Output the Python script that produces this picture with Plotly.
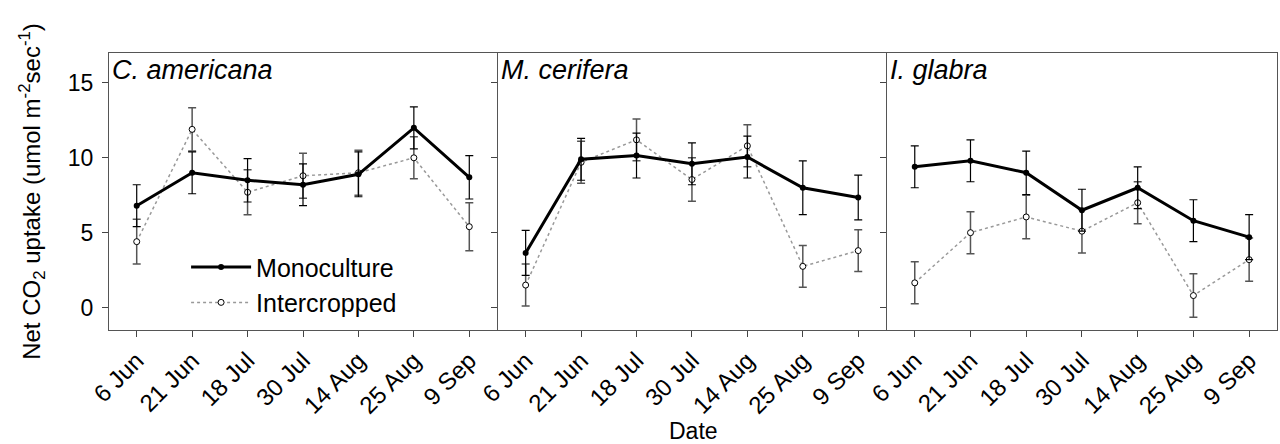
import plotly.graph_objects as go

dates = ["6 Jun", "21 Jun", "18 Jul", "30 Jul", "14 Aug", "25 Aug", "9 Sep"]
species = ["C. americana", "M. cerifera", "I. glabra"]

mono_ca = [6.8, 9.0, 8.5, 8.2, 8.9, 12.0, 8.7]
mono_ca_se = [1.4, 1.4, 1.45, 1.4, 1.5, 1.4, 1.45]
inter_ca = [4.4, 11.9, 7.7, 8.8, 9.0, 10.0, 5.4]
inter_ca_se = [1.5, 1.45, 1.5, 1.5, 1.5, 1.4, 1.6]

mono_mc = [3.65, 9.9, 10.15, 9.6, 10.05, 8.0, 7.35]
mono_mc_se = [1.5, 1.4, 1.5, 1.4, 1.4, 1.8, 1.5]
inter_mc = [1.5, 9.7, 11.2, 8.55, 10.8, 2.75, 3.8]
inter_mc_se = [1.4, 1.4, 1.4, 1.45, 1.4, 1.4, 1.4]

mono_ig = [9.4, 9.8, 9.0, 6.5, 8.0, 5.8, 4.7]
mono_ig_se = [1.4, 1.4, 1.45, 1.4, 1.4, 1.4, 1.5]
inter_ig = [1.65, 5.0, 6.05, 5.1, 7.0, 0.8, 3.2]
inter_ig_se = [1.4, 1.4, 1.45, 1.45, 1.4, 1.45, 1.45]

mono = [mono_ca, mono_mc, mono_ig]
mono_se = [mono_ca_se, mono_mc_se, mono_ig_se]
inter = [inter_ca, inter_mc, inter_ig]
inter_se = [inter_ca_se, inter_mc_se, inter_ig_se]

FONT = "Liberation Sans, Arial, sans-serif"
fig = go.Figure()

xidx = list(range(len(dates)))
for i in range(3):
    ax = "" if i == 0 else str(i + 1)
    fig.add_trace(go.Scatter(
        x=xidx, y=inter[i], xaxis="x" + ax, yaxis="y" + ax,
        mode="lines+markers", name="Intercropped", showlegend=(i == 0),
        line=dict(color="#999999", width=1.5, dash="dot"),
        marker=dict(symbol="circle", size=6, color="white",
                    line=dict(color="black", width=1)),
        error_y=dict(type="data", array=inter_se[i], color="#555555",
                     thickness=1.5, width=4),
    ))
    fig.add_trace(go.Scatter(
        x=xidx, y=mono[i], xaxis="x" + ax, yaxis="y" + ax,
        mode="lines+markers", name="Monoculture", showlegend=(i == 0),
        line=dict(color="black", width=3),
        marker=dict(symbol="circle", size=6, color="black"),
        error_y=dict(type="data", array=mono_se[i], color="black",
                     thickness=1.2, width=4),
    ))

domains = [[0, 0.3322], [0.3330, 0.6652], [0.6660, 1.0]]
layout = dict(
    width=1280, height=444,
    margin=dict(l=109, r=3, t=53, b=114, autoexpand=False),
    plot_bgcolor="white", paper_bgcolor="white",
    font=dict(family=FONT, size=22, color="black"),
    showlegend=True,
    legend=dict(x=0.066, y=0.31, xanchor="left", yanchor="top",
                traceorder="reversed", bgcolor="rgba(0,0,0,0)",
                font=dict(size=25, family=FONT), itemwidth=60,
                tracegroupgap=0),
)
for i in range(3):
    ax = "" if i == 0 else str(i + 1)
    layout["xaxis" + ax] = dict(
        domain=domains[i], range=[-0.5, 6.5], automargin=False,
        tickmode="array", tickvals=xidx, ticktext=dates, tickangle=-45,
        ticks="outside", ticklen=6, tickcolor="#444", showline=True,
        linecolor="#555", linewidth=1, mirror=True, showgrid=False,
        zeroline=False, anchor="y" + ax,
        tickfont=dict(size=24, family=FONT),
    )
    layout["yaxis" + ax] = dict(
        domain=[0, 1], range=[-1.5, 17], tickvals=[0, 5, 10, 15],
        automargin=False, ticklabelstandoff=4,
        ticks="outside", ticklen=6, tickcolor="#444", showline=True,
        linecolor="#555", linewidth=1, mirror=True, showgrid=False,
        zeroline=False, anchor="x" + ax, showticklabels=(i == 0),
        tickfont=dict(size=23, family=FONT),
    )
layout["yaxis"]["title"] = dict(
    text="Net CO<sub>2</sub> uptake (umol m<sup>-2</sup>sec<sup>-1</sup>)",
    font=dict(size=24, family=FONT), standoff=20)
fig.update_layout(**layout)

for i, sp in enumerate(species):
    ax = "x" if i == 0 else "x" + str(i + 1)
    fig.add_annotation(text="<i>" + sp + "</i>", xref=ax + " domain",
                       yref="paper", x=0.003, y=1.0, xanchor="left",
                       yanchor="top", showarrow=False,
                       font=dict(size=27, family=FONT))
fig.add_annotation(text="Date", xref="paper", yref="paper", x=0.5,
                   y=-0.31, yanchor="top", showarrow=False,
                   font=dict(size=23, family=FONT))

fig.write_html("out.html",
               config={"displayModeBar": False},
               post_script="document.body.style.margin='0';"
                           "document.body.style.overflow='hidden';")
